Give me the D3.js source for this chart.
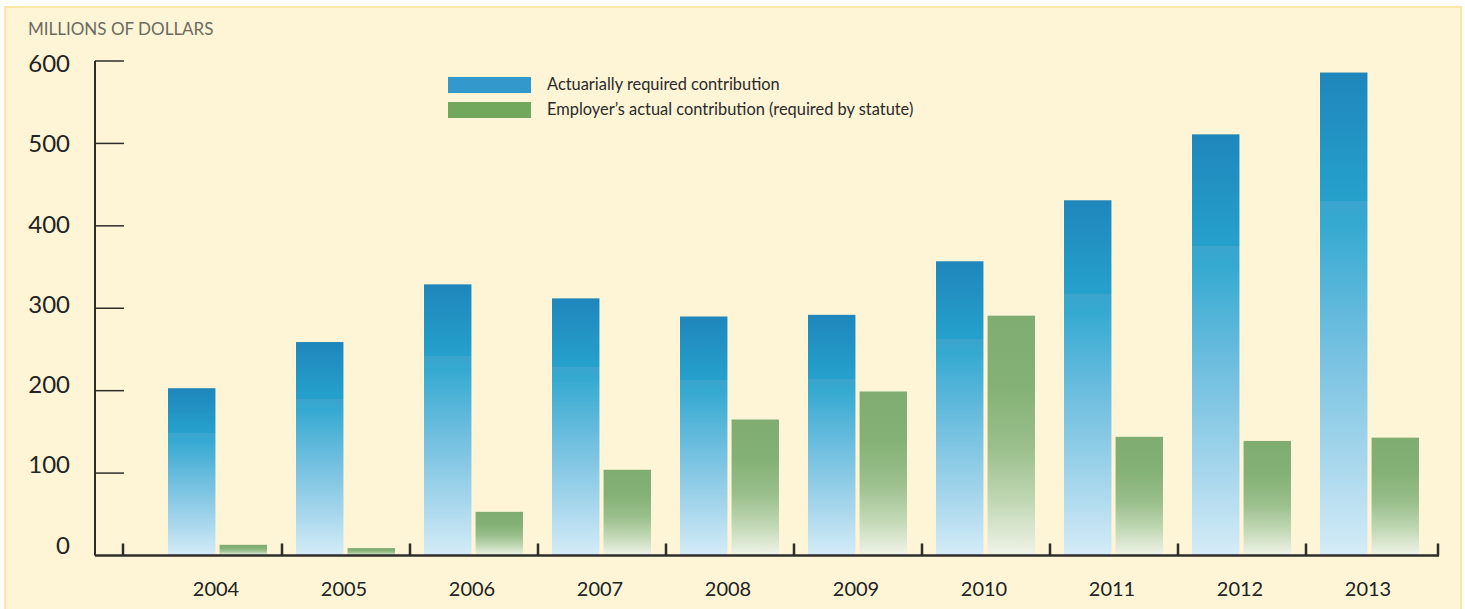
<!DOCTYPE html>
<html>
<head>
<meta charset="utf-8">
<script src="https://cdnjs.cloudflare.com/ajax/libs/d3/7.8.5/d3.min.js"></script>
<style>
  body { margin: 0; background: #fff; }
  svg { display: block; font-family: Lato, "Open Sans", sans-serif; }
</style>
</head>
<body>
<div id="chart"></div>
<script>
// values, millions of dollars
const years = ["2004", "2005", "2006", "2007", "2008", "2009", "2010", "2011", "2012", "2013"];
const required = [203, 259, 329, 312, 290, 292, 357, 431, 511, 586];
const actual = [13, 9, 53, 104, 165, 199, 291, 144, 139, 143];
const yTicks = [0, 100, 200, 300, 400, 500, 600];
const seriesNames = ["Actuarially required contribution", "Employer\u2019s actual contribution (required by statute)"];

const W = 1465, H = 609;

const svg = d3.select("#chart").append("svg")
  .attr("width", W)
  .attr("height", H);

// gradients
const defs = svg.append("defs");
const gBlue = defs.append("linearGradient")
  .attr("id", "blue").attr("x1", 0).attr("y1", 0).attr("x2", 0).attr("y2", 1);
[[0, "#1f86bb"], [0.265, "#25a1cc"], [0.265, "#3ba4cd"], [0.31, "#35a9d1"],
 [0.55, "#6ebedf"], [0.8, "#a6d6ec"], [1, "#d5ecf7"]]
  .forEach(([o, c]) => gBlue.append("stop").attr("offset", o).attr("stop-color", c));

const gGreen = defs.append("linearGradient")
  .attr("id", "green").attr("x1", 0).attr("y1", 0).attr("x2", 0).attr("y2", 1);
[[0, "#7fad71"], [0.3, "#84b276"], [0.55, "#9abf8c"], [0.78, "#c2d8b5"], [1, "#f0f4e9"]]
  .forEach(([o, c]) => gGreen.append("stop").attr("offset", o).attr("stop-color", c));

// panel
svg.append("rect")
  .attr("x", 5).attr("y", 7)
  .attr("width", 1456).attr("height", H)
  .attr("fill", "#fef5d7")
  .attr("stroke", "#fde7a6")
  .attr("stroke-width", 2);

const x = d3.scaleBand().domain(years).range([154, 1434]);
const xSub = d3.scaleBand().domain(["req", "act"]).range([14, 113]).paddingInner(0.08);
const y = d3.scaleLinear().domain([0, 600]).range([555.5, 61]);
// the tick labels in the original sit on a slightly tighter spacing than the ticks
const yLab = d3.scaleLinear().domain([0, 600]).range([545, 63.5]);

const axisLeft = 95, axisRight = 1438;

// title
svg.append("text")
  .attr("x", 28).attr("y", 35)
  .attr("font-size", 17)
  .attr("fill", "#6b6a5f")
  .text("MILLIONS OF DOLLARS");

// bars
const groups = svg.append("g").selectAll("g")
  .data(years.map((yr, i) => ({ yr, req: required[i], act: actual[i] })))
  .join("g")
  .attr("transform", d => `translate(${x(d.yr)},0)`);

groups.append("rect")
  .attr("x", xSub("req"))
  .attr("width", xSub.bandwidth())
  .attr("y", d => y(d.req))
  .attr("height", d => y(0) - y(d.req))
  .attr("fill", "url(#blue)");

groups.append("rect")
  .attr("x", xSub("act"))
  .attr("width", xSub.bandwidth())
  .attr("y", d => y(d.act))
  .attr("height", d => y(0) - y(d.act))
  .attr("fill", "url(#green)");

// y axis
const ya = svg.append("g");
ya.append("line")
  .attr("x1", axisLeft).attr("x2", axisLeft)
  .attr("y1", y(600)).attr("y2", y(0))
  .attr("stroke", "#2e2c2a").attr("stroke-width", 2);

ya.selectAll("line.tick")
  .data(yTicks.filter(t => t > 0))
  .join("line")
  .attr("class", "tick")
  .attr("x1", axisLeft).attr("x2", 124)
  .attr("y1", d => y(d)).attr("y2", d => y(d))
  .attr("stroke", "#2e2c2a").attr("stroke-width", 1.5);

ya.selectAll("text")
  .data(yTicks)
  .join("text")
  .attr("x", 70)
  .attr("y", d => yLab(d))
  .attr("dy", "0.36em")
  .attr("text-anchor", "end")
  .attr("font-size", 24)
  .attr("fill", "#222")
  .text(d => d);

// x axis
const xa = svg.append("g");
xa.append("line")
  .attr("x1", axisLeft).attr("x2", axisRight + 1)
  .attr("y1", y(0)).attr("y2", y(0))
  .attr("stroke", "#2e2c2a").attr("stroke-width", 2.5);

const xTickPos = [123].concat(years.slice(1).map(yr => x(yr)), [axisRight]);
xa.selectAll("line.tick")
  .data(xTickPos)
  .join("line")
  .attr("class", "tick")
  .attr("x1", d => d).attr("x2", d => d)
  .attr("y1", y(0)).attr("y2", y(0) - 12)
  .attr("stroke", "#2e2c2a").attr("stroke-width", 2.5);

xa.selectAll("text")
  .data(years)
  .join("text")
  .attr("x", d => x(d) + 62)
  .attr("y", 596)
  .attr("text-anchor", "middle")
  .attr("font-size", 20)
  .attr("fill", "#222")
  .text(d => d);

// legend
const legend = svg.append("g").attr("transform", "translate(448,77)");
const legItems = legend.selectAll("g")
  .data(seriesNames)
  .join("g")
  .attr("transform", (d, i) => `translate(0,${i * 25})`);

legItems.append("rect")
  .attr("width", 83).attr("height", 16)
  .attr("fill", (d, i) => i === 0 ? "#3399cc" : "#72a85e");

legItems.append("text")
  .attr("x", 99).attr("y", 13)
  .attr("font-size", 16.4)
  .attr("fill", "#2b2a28")
  .text(d => d);
</script>
</body>
</html>
